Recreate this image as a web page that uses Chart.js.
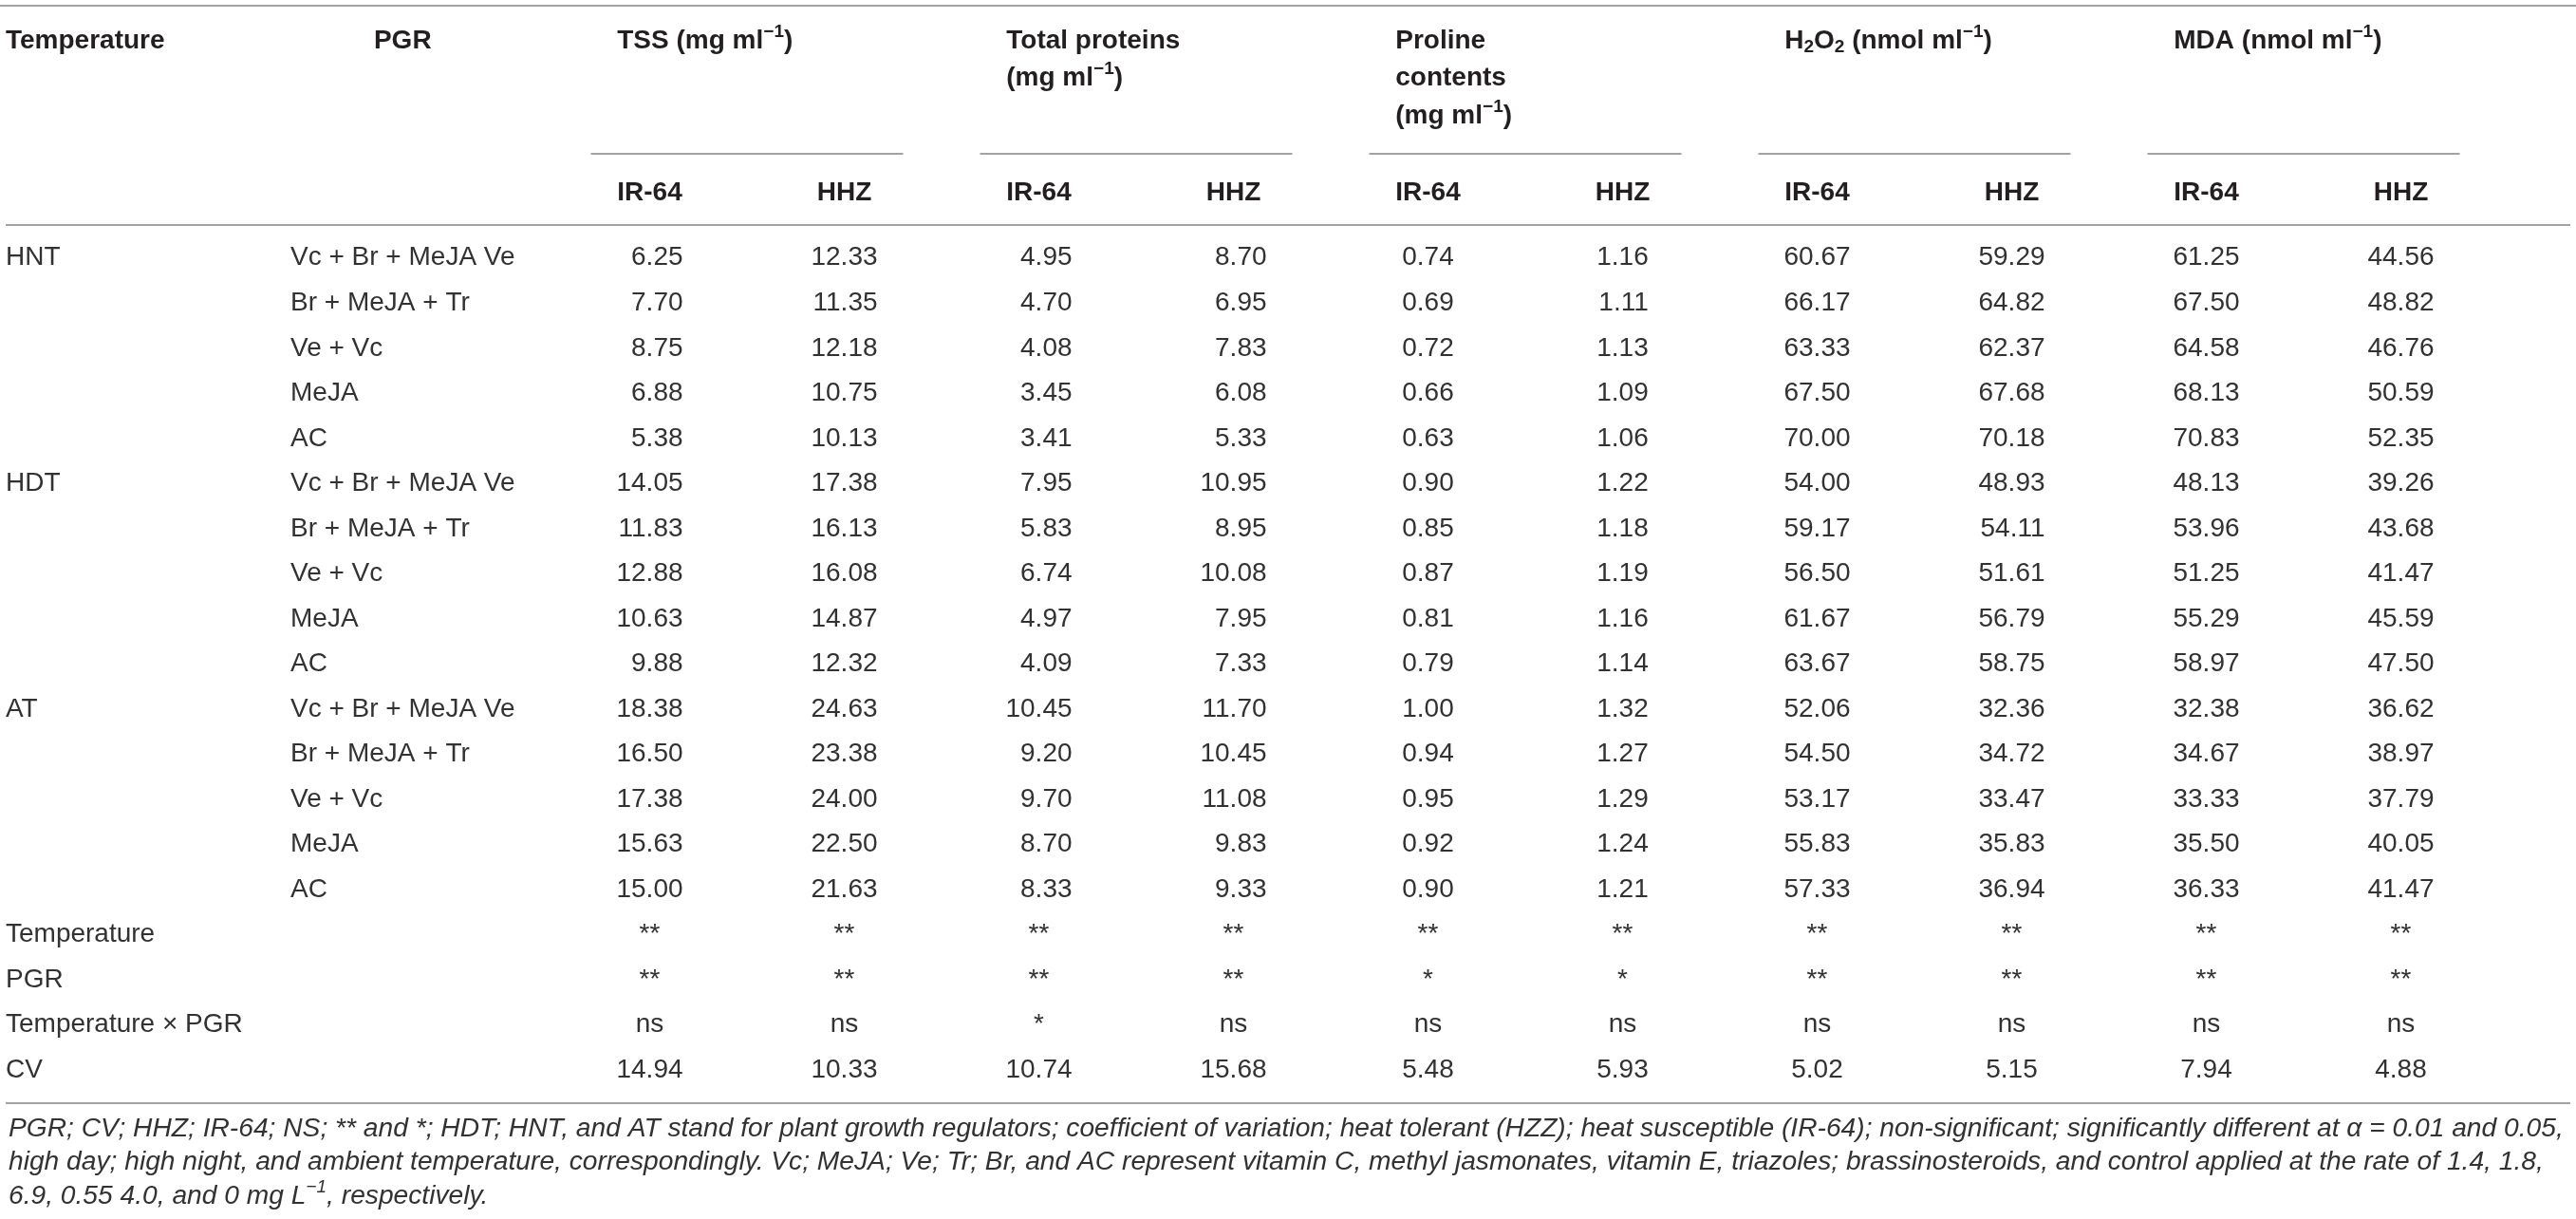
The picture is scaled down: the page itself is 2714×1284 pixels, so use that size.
<!DOCTYPE html>
<html>
<head>
<meta charset="utf-8">
<title>PGR and temperature effects</title>
<script src="https://cdn.jsdelivr.net/npm/chart.js@4.4.1/dist/chart.umd.min.js"></script>
<style>
  html, body { margin: 0; padding: 0; background: #fff; }
  #wrap { position: relative; width: 2714px; height: 1284px; }
</style>
</head>
<body>
<div id="wrap"><canvas id="tbl"></canvas></div>
<script>
// row and column categories
var temperatures = ['HNT', 'HDT', 'AT'];
var pgrs = ['Vc + Br + MeJA Ve', 'Br + MeJA + Tr', 'Ve + Vc', 'MeJA', 'AC'];
var statRows = ['Temperature', 'PGR', 'Temperature × PGR', 'CV'];
var cultivars = ['IR-64', 'HHZ'];

// values, 15 rows each (HNT x5, HDT x5, AT x5)
var tssIR64 = [6.25, 7.70, 8.75, 6.88, 5.38, 14.05, 11.83, 12.88, 10.63, 9.88, 18.38, 16.50, 17.38, 15.63, 15.00];
var tssHHZ = [12.33, 11.35, 12.18, 10.75, 10.13, 17.38, 16.13, 16.08, 14.87, 12.32, 24.63, 23.38, 24.00, 22.50, 21.63];
var proteinIR64 = [4.95, 4.70, 4.08, 3.45, 3.41, 7.95, 5.83, 6.74, 4.97, 4.09, 10.45, 9.20, 9.70, 8.70, 8.33];
var proteinHHZ = [8.70, 6.95, 7.83, 6.08, 5.33, 10.95, 8.95, 10.08, 7.95, 7.33, 11.70, 10.45, 11.08, 9.83, 9.33];
var prolineIR64 = [0.74, 0.69, 0.72, 0.66, 0.63, 0.90, 0.85, 0.87, 0.81, 0.79, 1.00, 0.94, 0.95, 0.92, 0.90];
var prolineHHZ = [1.16, 1.11, 1.13, 1.09, 1.06, 1.22, 1.18, 1.19, 1.16, 1.14, 1.32, 1.27, 1.29, 1.24, 1.21];
var h2o2IR64 = [60.67, 66.17, 63.33, 67.50, 70.00, 54.00, 59.17, 56.50, 61.67, 63.67, 52.06, 54.50, 53.17, 55.83, 57.33];
var h2o2HHZ = [59.29, 64.82, 62.37, 67.68, 70.18, 48.93, 54.11, 51.61, 56.79, 58.75, 32.36, 34.72, 33.47, 35.83, 36.94];
var mdaIR64 = [61.25, 67.50, 64.58, 68.13, 70.83, 48.13, 53.96, 51.25, 55.29, 58.97, 32.38, 34.67, 33.33, 35.50, 36.33];
var mdaHHZ = [44.56, 48.82, 46.76, 50.59, 52.35, 39.26, 43.68, 41.47, 45.59, 47.50, 36.62, 38.97, 37.79, 40.05, 41.47];

// significance rows and CV, one entry per column
var sigTemperature = ['**', '**', '**', '**', '**', '**', '**', '**', '**', '**'];
var sigPGR = ['**', '**', '**', '**', '*', '*', '**', '**', '**', '**'];
var sigInteraction = ['ns', 'ns', '*', 'ns', 'ns', 'ns', 'ns', 'ns', 'ns', 'ns'];
var cvValues = [14.94, 10.33, 10.74, 15.68, 5.48, 5.93, 5.02, 5.15, 7.94, 4.88];

// header text (strings, {sup}, {sub}), one array per line
var traitHeaders = [
  [['TSS (mg ml', {sup: '−1'}, ')']],
  [['Total proteins'], ['(mg ml', {sup: '−1'}, ')']],
  [['Proline'], ['contents'], ['(mg ml', {sup: '−1'}, ')']],
  [['H', {sub: '2'}, 'O', {sub: '2'}, ' (nmol ml', {sup: '−1'}, ')']],
  [['MDA (nmol ml', {sup: '−1'}, ')']]
];
var footnote = [
  ['PGR; CV; HHZ; IR-64; NS; ** and *; HDT; HNT, and AT stand for plant growth regulators; coefficient of variation; heat tolerant (HZZ); heat susceptible (IR-64); non-significant; significantly different at α = 0.01 and 0.05,'],
  ['high day; high night, and ambient temperature, correspondingly. Vc; MeJA; Ve; Tr; Br, and AC represent vitamin C, methyl jasmonates, vitamin E, triazoles; brassinosteroids, and control applied at the rate of 1.4, 1.8,'],
  ['6.9, 0.55 4.0, and 0 mg L', {sup: '−1'}, ', respectively.']
];

var FONT = '"Liberation Sans", Arial, sans-serif';
var INK = '#231f20';
var BODY = '#333132';
var RULE = '#a3a3a3';

var columns = [
  {trait: 0, cultivar: cultivars[0], values: tssIR64},
  {trait: 0, cultivar: cultivars[1], values: tssHHZ},
  {trait: 1, cultivar: cultivars[0], values: proteinIR64},
  {trait: 1, cultivar: cultivars[1], values: proteinHHZ},
  {trait: 2, cultivar: cultivars[0], values: prolineIR64},
  {trait: 2, cultivar: cultivars[1], values: prolineHHZ},
  {trait: 3, cultivar: cultivars[0], values: h2o2IR64},
  {trait: 3, cultivar: cultivars[1], values: h2o2HHZ},
  {trait: 4, cultivar: cultivars[0], values: mdaIR64},
  {trait: 4, cultivar: cultivars[1], values: mdaHHZ}
];
var colKeys = columns.map(function (c) { return 'T' + c.trait + ' ' + c.cultivar; });

var rowKeys = [];
temperatures.forEach(function (t) {
  pgrs.forEach(function (p) { rowKeys.push(t + ' / ' + p); });
});
statRows.forEach(function (s) { rowKeys.push(s); });
var nData = temperatures.length * pgrs.length;

function statText(c, k) {
  if (k === 0) return sigTemperature[c];
  if (k === 1) return sigPGR[c];
  if (k === 2) return sigInteraction[c];
  return cvValues[c].toFixed(2);
}

function drawRich(ctx, parts, x, y, size, style) {
  parts.forEach(function (p) {
    var plain = typeof p === 'string';
    var txt = plain ? p : (p.sup || p.sub);
    var s = plain ? size : Math.round(size * 0.68);
    var dy = plain ? 0 : (p.sup ? -size * 0.34 : size * 0.24);
    ctx.font = style + ' ' + s + 'px ' + FONT;
    ctx.fillText(txt, x, y + dy);
    x += ctx.measureText(txt).width;
  });
}

function hline(ctx, x1, x2, y) {
  ctx.beginPath();
  ctx.moveTo(x1, y);
  ctx.lineTo(x2, y);
  ctx.stroke();
}

// draws cell texts at the points, plus the rules, headers and footnote
var tablePlugin = {
  id: 'tableText',
  afterDatasetsDraw: function (chart) {
    var ctx = chart.ctx;
    ctx.save();
    ctx.fillStyle = BODY;
    ctx.textBaseline = 'middle';
    ctx.font = '28px ' + FONT;
    chart.data.datasets.forEach(function (ds, i) {
      // data values line up on their right edge, the widest one centred
      var widest = 0;
      ds.data.forEach(function (d) {
        if (d.numeric) widest = Math.max(widest, ctx.measureText(d.text).width);
      });
      chart.getDatasetMeta(i).data.forEach(function (pt, j) {
        var d = ds.data[j];
        if (d.numeric) {
          ctx.textAlign = 'right';
          ctx.fillText(d.text, pt.x + widest / 2, pt.y);
        } else {
          ctx.textAlign = 'center';
          ctx.fillText(d.text, pt.x, pt.y);
        }
      });
    });
    ctx.restore();
  },
  afterDraw: function (chart) {
    var ctx = chart.ctx;
    var area = chart.chartArea;
    var xs = chart.scales.x, ys = chart.scales.y, ys2 = chart.scales.y2;
    var W = chart.width;
    ctx.save();
    ctx.strokeStyle = RULE;
    ctx.lineWidth = 2;
    hline(ctx, 0, W, 6);
    hline(ctx, 6, W - 6, area.top - 11);
    hline(ctx, 6, W - 6, area.bottom + 11);

    ctx.fillStyle = INK;
    ctx.textBaseline = 'middle';
    ctx.textAlign = 'left';
    ctx.font = 'bold 28px ' + FONT;
    ctx.fillText('Temperature', ys2.left, 43);
    var widest = 0;
    ctx.font = '28px ' + FONT;
    pgrs.forEach(function (p) { widest = Math.max(widest, ctx.measureText(p).width); });
    ctx.font = 'bold 28px ' + FONT;
    ctx.textAlign = 'center';
    ctx.fillText('PGR', ys.left + widest / 2, 43);
    ctx.textAlign = 'left';

    var irHalf = ctx.measureText(cultivars[0]).width / 2;
    traitHeaders.forEach(function (lines, t) {
      var xIR = xs.getPixelForValue(2 * t);
      var xHHZ = xs.getPixelForValue(2 * t + 1);
      lines.forEach(function (parts, k) {
        drawRich(ctx, parts, xIR - irHalf, 43 + k * 39.5, 28, 'bold');
      });
      hline(ctx, xIR - 62, xHHZ + 62, 162);
    });

    ctx.fillStyle = BODY;
    footnote.forEach(function (parts, k) {
      drawRich(ctx, parts, 9, area.bottom + 38 + k * 35.5, 28.2, 'italic');
    });
    ctx.restore();
  }
};

var chartTable = new Chart(document.getElementById('tbl'), {
  type: 'scatter',
  data: {
    datasets: columns.map(function (col, c) {
      return {
        label: colKeys[c],
        data: rowKeys.map(function (rk, r) {
          var isData = r < nData;
          return {
            x: colKeys[c],
            y: rk,
            text: isData ? col.values[r].toFixed(2) : statText(c, r - nData),
            numeric: isData
          };
        }),
        pointRadius: 0,
        pointHoverRadius: 0
      };
    })
  },
  options: {
    responsive: true,
    maintainAspectRatio: false,
    animation: false,
    events: [],
    layout: { padding: { left: 6, top: 150, right: 82, bottom: 133 } },
    plugins: {
      legend: { display: false },
      tooltip: { enabled: false }
    },
    scales: {
      x: {
        type: 'category',
        position: 'top',
        labels: colKeys,
        offset: true,
        grid: { display: false, drawTicks: false },
        border: { display: false },
        ticks: {
          autoSkip: false,
          maxRotation: 0,
          padding: 28,
          color: INK,
          font: { family: FONT, size: 28, weight: 'bold' },
          callback: function (v, i) { return columns[i].cultivar; }
        },
        afterFit: function (s) { s.height = 98; }
      },
      y: {
        type: 'category',
        position: 'left',
        weight: 0,
        labels: rowKeys,
        offset: true,
        grid: { display: false, drawTicks: false },
        border: { display: false },
        ticks: {
          autoSkip: false,
          crossAlign: 'far',
          padding: 0,
          color: BODY,
          font: { family: FONT, size: 28 },
          callback: function (v, i) { return i < nData ? pgrs[i % pgrs.length] : ''; }
        },
        afterFit: function (s) { s.width = 276; }
      },
      y2: {
        type: 'category',
        position: 'left',
        weight: 1,
        labels: rowKeys,
        offset: true,
        grid: { display: false, drawTicks: false },
        border: { display: false },
        ticks: {
          autoSkip: false,
          crossAlign: 'far',
          padding: 0,
          color: BODY,
          font: { family: FONT, size: 28 },
          callback: function (v, i) {
            if (i >= nData) return statRows[i - nData];
            return i % pgrs.length === 0 ? temperatures[i / pgrs.length] : '';
          }
        },
        afterFit: function (s) { s.width = 300; }
      }
    }
  },
  plugins: [tablePlugin]
});
</script>
</body>
</html>
